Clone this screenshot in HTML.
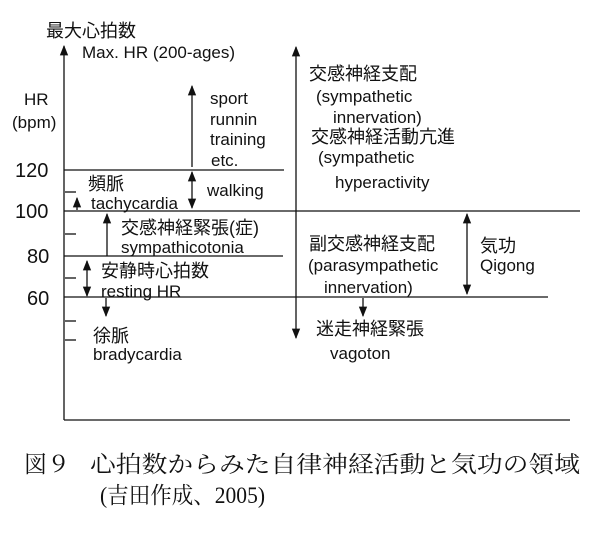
<!DOCTYPE html>
<html><head><meta charset="utf-8"><style>
html,body{margin:0;padding:0;background:#fff;}
svg text{font-family:"Liberation Sans","Noto Sans CJK JP",sans-serif;fill:#111;}
.s{font-size:17px;}
.j{font-size:18px;}
.n{font-size:20px;}
.c{font-family:"Liberation Serif","Noto Serif CJK SC",serif !important;font-size:23px;}
</style></head><body>
<svg width="605" height="532" viewBox="0 0 605 532" xmlns="http://www.w3.org/2000/svg">
<defs>
<marker id="a" viewBox="0 0 10 10" refX="9" refY="5" markerWidth="8" markerHeight="8" orient="auto-start-reverse"><path d="M0,1 L10,5 L0,9 z" fill="#111"/></marker>
</defs>
<g stroke="#111" stroke-width="1.3" fill="none">
<line x1="64" y1="420" x2="64" y2="46" marker-end="url(#a)"/>
<line x1="64" y1="420" x2="570" y2="420"/>
<line x1="64" y1="170" x2="284" y2="170"/>
<line x1="64" y1="211" x2="580" y2="211"/>
<line x1="64" y1="256" x2="283" y2="256"/>
<line x1="64" y1="297" x2="548" y2="297"/>
<line x1="65" y1="192" x2="76" y2="192"/>
<line x1="65" y1="234" x2="76" y2="234"/>
<line x1="65" y1="278" x2="76" y2="278"/>
<line x1="65" y1="321" x2="76" y2="321"/>
<line x1="65" y1="340" x2="76" y2="340"/>
<line x1="192" y1="167" x2="192" y2="86" marker-end="url(#a)"/>
<line x1="192" y1="172" x2="192" y2="208" marker-start="url(#a)" marker-end="url(#a)"/>
<line x1="77" y1="210" x2="77" y2="198" marker-end="url(#a)"/>
<line x1="107" y1="256" x2="107" y2="214" marker-end="url(#a)"/>
<line x1="87" y1="261" x2="87" y2="296" marker-start="url(#a)" marker-end="url(#a)"/>
<line x1="106" y1="298" x2="106" y2="316" marker-end="url(#a)"/>
<line x1="296" y1="47" x2="296" y2="338" marker-start="url(#a)" marker-end="url(#a)"/>
<line x1="467" y1="214" x2="467" y2="294" marker-start="url(#a)" marker-end="url(#a)"/>
<line x1="363" y1="298" x2="363" y2="316" marker-end="url(#a)"/>
</g>
<text class="j" x="46" y="37">最大心拍数</text>
<text class="s" x="82" y="58">Max. HR (200-ages)</text>
<text class="s" x="24" y="105">HR</text>
<text class="s" x="12" y="128">(bpm)</text>
<text class="n" x="15" y="177">120</text>
<text class="n" x="15" y="218">100</text>
<text class="n" x="27" y="263">80</text>
<text class="n" x="27" y="305">60</text>
<text class="s" x="210" y="104">sport</text>
<text class="s" x="210" y="125">runnin</text>
<text class="s" x="210" y="145">training</text>
<text class="s" x="211" y="166">etc.</text>
<text class="s" x="207" y="196">walking</text>
<text class="j" x="88" y="190">頻脈</text>
<text class="s" x="91" y="209">tachycardia</text>
<text class="j" x="121" y="234">交感神経緊張(症)</text>
<text class="s" x="121" y="253">sympathicotonia</text>
<text class="j" x="101" y="277">安静時心拍数</text>
<text class="s" x="101" y="297">resting HR</text>
<text class="j" x="93" y="342">徐脈</text>
<text class="s" x="93" y="360">bradycardia</text>
<text class="j" x="309" y="80">交感神経支配</text>
<text class="s" x="316" y="102">(sympathetic</text>
<text class="s" x="333" y="123">innervation)</text>
<text class="j" x="311" y="143">交感神経活動亢進</text>
<text class="s" x="318" y="163">(sympathetic</text>
<text class="s" x="335" y="188">hyperactivity</text>
<text class="j" x="309" y="250">副交感神経支配</text>
<text class="s" x="308" y="271">(parasympathetic</text>
<text class="s" x="324" y="293">innervation)</text>
<text class="j" x="480" y="252">気功</text>
<text class="s" x="480" y="271">Qigong</text>
<text class="j" x="316" y="335">迷走神経緊張</text>
<text class="s" x="330" y="359">vagoton</text>
<text class="c" x="24" y="472">図９</text>
<text class="c" x="90" y="472" textLength="490" lengthAdjust="spacingAndGlyphs">心拍数からみた自律神経活動と気功の領域</text>
<text class="c" x="100" y="503" textLength="165" lengthAdjust="spacingAndGlyphs">(吉田作成、2005)</text>
</svg>
</body></html>
